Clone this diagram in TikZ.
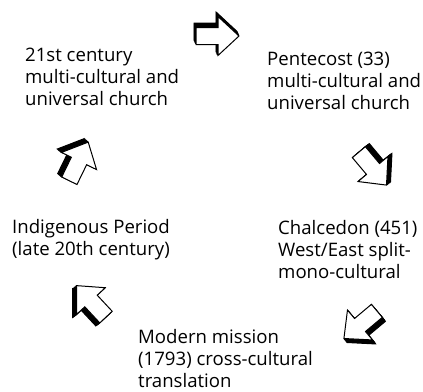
\documentclass[tikz,border=0pt]{standalone}
\usepackage{fontspec}
\setmainfont{Open Sans}

\tikzset{
	era/.style={anchor=base west, inner sep=0pt, align=left, font=\fontsize{18.6}{22}\selectfont},
	arrowface/.style={fill=white, draw=black, line width=1pt, line join=miter},
	arrowdepth/.style={fill=black, draw=black, line width=1pt, line join=miter},
}

\newcommand{\arrowoutline}{(-22,-8.5) -- (0,-8.5) -- (0,-19.5) -- (21,0) -- (0,19.5) -- (0,8.5) -- (-22,8.5) -- cycle}

% x, y, angle, depth dx, depth dy
\newcommand{\blockarrow}[5]{%
	\foreach \d in {0.2,0.4,...,1.0} {
		\filldraw[arrowdepth, shift={(#1+\d*#4,#2+\d*#5)}, rotate=#3] \arrowoutline;
	}
	\filldraw[arrowface, shift={(#1,#2)}, rotate=#3] \arrowoutline;
}

\begin{document}
\begin{tikzpicture}[x=1pt, y=-1pt]
	\useasboundingbox (0,0) rectangle (423,391);

	%stages of the cycle (placed at the baseline of their last line)
	\node[era] (century21) at (25,105) {21st century\\multi-cultural and\\universal church};
	\node[era] (pentecost) at (267,109) {Pentecost (33)\\multi-cultural and\\universal church};
	\node[era] (chalcedon) at (278,278) {Chalcedon (451)\\West/East split-\\mono-cultural};
	\node[era] (mission) at (138,387) {Modern mission\\(1793) cross-cultural\\translation};
	\node[era] (indigenous) at (12,255) {Indigenous Period\\(late 20th century)};

	%block arrows between the stages
	\blockarrow{218}{36}{0}{-2}{-4.5}
	\blockarrow{373}{169}{-50}{4}{-3}
	\blockarrow{360}{325}{220}{3}{4}
	\blockarrow{91}{301}{133}{-4}{3}
	\blockarrow{79}{161}{64}{-4}{-3.5}

\end{tikzpicture}
\end{document}
